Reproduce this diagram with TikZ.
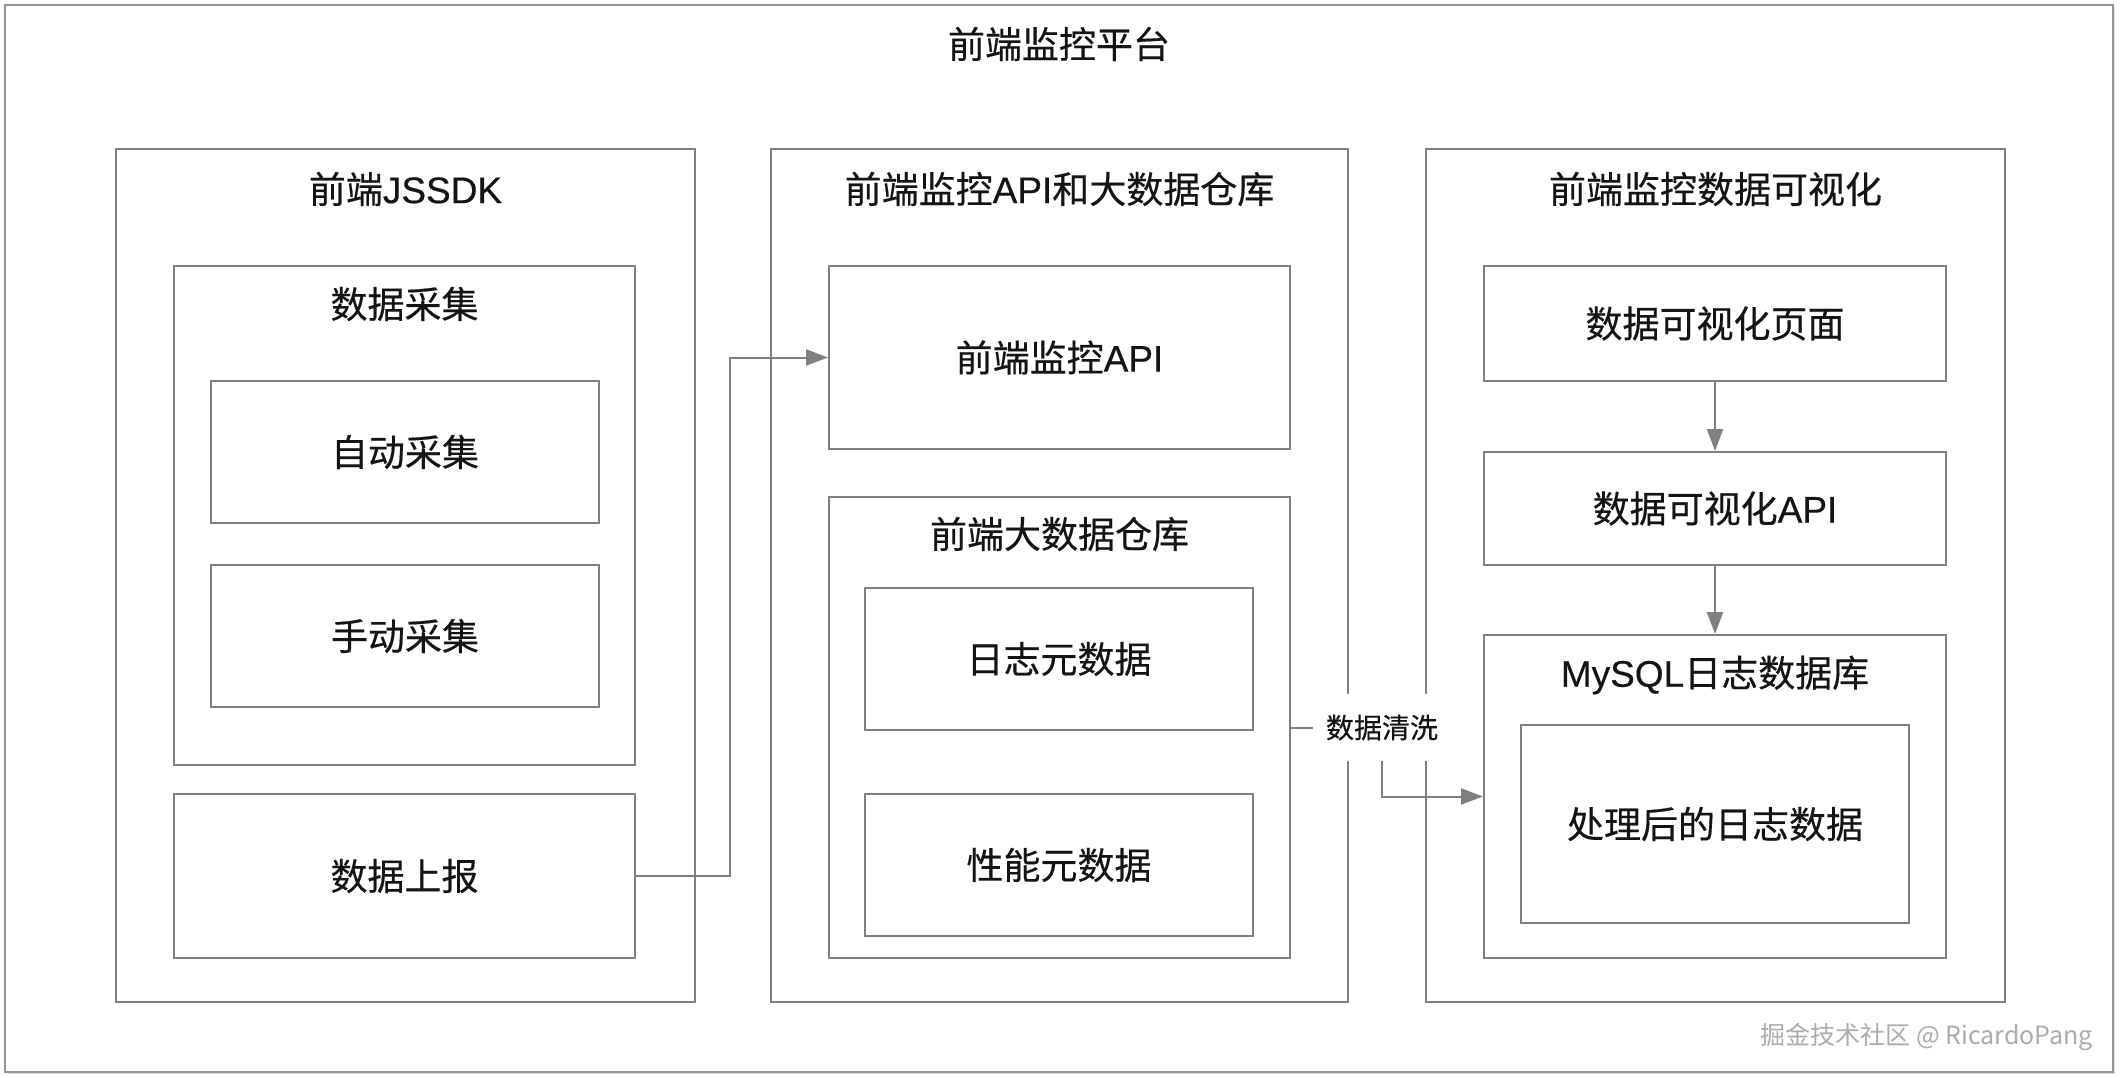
\documentclass[tikz,border=0pt]{standalone}
\usepackage{fontspec}
\setmainfont{Noto Sans CJK SC}[FakeBold=0.4]
\newfontfamily\lat{Liberation Sans}[FakeBold=0.4]
\newfontfamily\wmfont{Noto Sans CJK SC}
\usetikzlibrary{arrows.meta,shadows}
\definecolor{lc}{RGB}{128,128,128}
\definecolor{tc}{RGB}{20,20,20}
\begin{document}
\begin{tikzpicture}[x=1pt,y=-1pt,
  box/.style={draw=lc, line width=2pt, inner sep=0pt, fill=white},
  txt/.style={font=\fontsize{37}{44}\selectfont, text=tc},
  arr/.style={draw=lc, line width=2pt, -{Triangle[length=22pt,width=16pt]}},
  tbox/.style={box, txt}]
\useasboundingbox[fill=white] (0,0) rectangle (2120,1078);
% outer frame
\node[box, draw=lc!85, minimum width=2108pt, minimum height=1067pt,
  drop shadow={shadow xshift=2pt, shadow yshift=-2pt, opacity=0.25}] (frame) at (1059,538.5) {};
\node[txt] (ttl) at (1059,44) {前端监控平台};
% columns
\node[box, minimum width=579pt, minimum height=853pt] (col1) at (405.5,575.5) {};
\node[txt] (t1) at (405.5,189) {前端{\lat JSSDK}};
\node[box, minimum width=577pt, minimum height=853pt] (col2) at (1059.5,575.5) {};
\node[txt] (t2) at (1059.5,189) {前端监控{\lat API}和大数据仓库};
\node[box, minimum width=579pt, minimum height=853pt] (col3) at (1715.5,575.5) {};
\node[txt] (t3) at (1715.5,189) {前端监控数据可视化};
% column 1
\node[box, minimum width=461pt, minimum height=499pt] (collect) at (404.5,515.5) {};
\node[txt] (tcollect) at (404.5,304) {数据采集};
\node[tbox, minimum width=388pt, minimum height=142pt] (auto) at (405,452) {自动采集};
\node[tbox, minimum width=388pt, minimum height=142pt] (manual) at (405,636) {手动采集};
\node[tbox, minimum width=461pt, minimum height=164pt] (report) at (404.5,876) {数据上报};
% column 2
\node[tbox, minimum width=461pt, minimum height=183pt] (api) at (1059.5,357.5) {前端监控{\lat API}};
\node[box, minimum width=461pt, minimum height=461pt] (wh) at (1059.5,727.5) {};
\node[txt] (twh) at (1059.5,534) {前端大数据仓库};
\node[tbox, minimum width=388pt, minimum height=142pt] (logmeta) at (1059,659) {日志元数据};
\node[tbox, minimum width=388pt, minimum height=142pt] (perfmeta) at (1059,865) {性能元数据};
% column 3
\node[tbox, minimum width=462pt, minimum height=115pt] (page) at (1715,323.5) {数据可视化页面};
\node[tbox, minimum width=462pt, minimum height=113pt] (visapi) at (1715,508.5) {数据可视化{\lat API}};
\node[box, minimum width=462pt, minimum height=323pt] (mysql) at (1715,796.5) {};
\node[txt] (tmysql) at (1715,675) {{\lat MySQL}日志数据库};
\node[tbox, minimum width=388pt, minimum height=198pt] (processed) at (1715,824) {处理后的日志数据};
% connectors
\coordinate (c1) at (730,0);
\draw[arr] (report.east) -- (report.east -| c1) -- (api.west -| c1) -- (api.west);
\coordinate (c2) at (1382,0);
\draw[arr] (wh.east) -- (wh.east -| c2) -- (mysql.west -| c2) -- (mysql.west);
\node[fill=white, font=\fontsize{28}{34}\selectfont, text=tc, inner xsep=13pt, inner ysep=0pt, minimum height=67pt] (clean) at (wh.east -| c2) {数据清洗};
\draw[arr] (page.south) -- (visapi.north);
\draw[arr] (visapi.south) -- (mysql.north);
% watermark
\node[anchor=east, text=gray!65, font=\wmfont\fontsize{25}{30}\selectfont, inner sep=0pt] (wm) at (2093,1037) {掘金技术社区 @ RicardoPang};
\end{tikzpicture}
\end{document}
